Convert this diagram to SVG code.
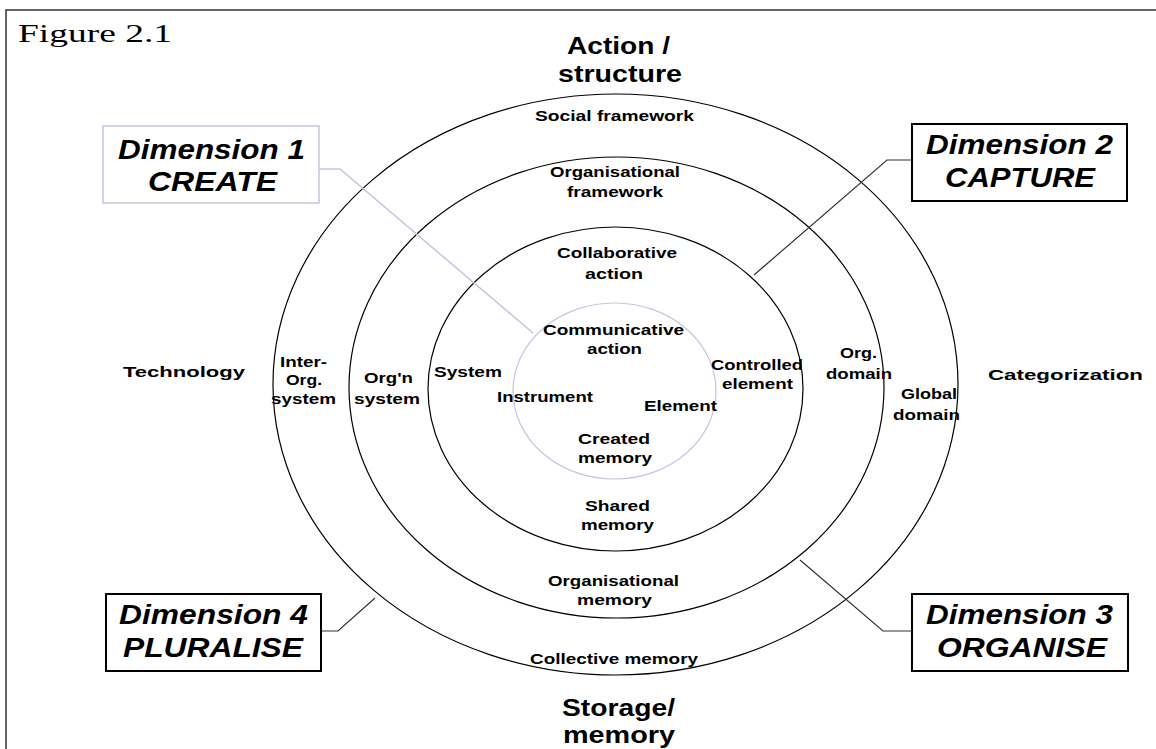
<svg xmlns="http://www.w3.org/2000/svg" width="1156" height="749" viewBox="0 0 1156 749">
<style>
.bg{fill:#ffffff}
.frame{fill:none;stroke:#333333;stroke-width:1.5}
.ring{fill:none;stroke:#000000;stroke-width:1.2}
.core{fill:none;stroke:#c4c4e4;stroke-width:1.2}
.lbl{font-family:"Liberation Sans",Arial,sans-serif;font-weight:bold;font-size:15px;fill:#000}
.axis{font-family:"Liberation Sans",Arial,sans-serif;font-weight:bold;font-size:23px;fill:#000}
.dim{font-family:"Liberation Sans",Arial,sans-serif;font-weight:bold;font-style:italic;font-size:27px;fill:#000}
.box{fill:#ffffff;stroke:#000;stroke-width:2}
.box1{fill:#ffffff;stroke:#c4c4e4;stroke-width:1.5}
.conn{fill:none;stroke:#333333;stroke-width:1.2}
.conn1{fill:none;stroke:#c4c4e4;stroke-width:1.5}
.title{font-family:"Liberation Serif","Times New Roman",serif;font-size:25px;fill:#000}
</style>
<rect class="bg" x="0" y="0" width="1156" height="749"/>
<rect class="frame" x="6" y="10" width="1200" height="800"/>
<text class="title" x="18" y="42" textLength="154" lengthAdjust="spacingAndGlyphs">Figure 2.1</text>

<g id="rings">
<ellipse class="ring" cx="615.5" cy="384.5" rx="342.5" ry="290.5"/>
<ellipse class="ring" cx="616.5" cy="387.5" rx="267.5" ry="230.5"/>
<ellipse class="ring" cx="615.5" cy="389" rx="187.5" ry="162"/>
<ellipse class="core" cx="614.5" cy="391" rx="101.5" ry="88"/>
</g>

<g id="connectors">
<polyline class="conn1" points="302,169 340,169 533,333"/>
<polyline class="conn" points="912,160 887,160 754,275"/>
<polyline class="conn" points="912,631 883,631 800,560"/>
<polyline class="conn" points="321,631 338,631 375,598"/>
</g>

<g id="axis-top">
<text class="axis" x="567" y="54" textLength="103" lengthAdjust="spacingAndGlyphs">Action /</text>
<text class="axis" x="558" y="82" textLength="124" lengthAdjust="spacingAndGlyphs">structure</text>
</g>
<g id="axis-bottom">
<text class="axis" x="562" y="716" textLength="113" lengthAdjust="spacingAndGlyphs">Storage/</text>
<text class="axis" x="563" y="743" textLength="112" lengthAdjust="spacingAndGlyphs">memory</text>
</g>
<g id="axis-left"><text class="lbl" x="123" y="377" textLength="122" lengthAdjust="spacingAndGlyphs">Technology</text></g>
<g id="axis-right"><text class="lbl" x="988" y="380" textLength="155" lengthAdjust="spacingAndGlyphs">Categorization</text></g>

<g id="social-framework"><text class="lbl" x="535" y="121" textLength="159" lengthAdjust="spacingAndGlyphs">Social framework</text></g>
<g id="org-framework">
<text class="lbl" x="550" y="177" textLength="130" lengthAdjust="spacingAndGlyphs">Organisational</text>
<text class="lbl" x="567" y="197" textLength="96" lengthAdjust="spacingAndGlyphs">framework</text>
</g>
<g id="collab-action">
<text class="lbl" x="557" y="258" textLength="120" lengthAdjust="spacingAndGlyphs">Collaborative</text>
<text class="lbl" x="585" y="279" textLength="58" lengthAdjust="spacingAndGlyphs">action</text>
</g>
<g id="comm-action">
<text class="lbl" x="543" y="335" textLength="141" lengthAdjust="spacingAndGlyphs">Communicative</text>
<text class="lbl" x="587" y="354" textLength="55" lengthAdjust="spacingAndGlyphs">action</text>
</g>
<g id="system"><text class="lbl" x="434" y="377" textLength="68" lengthAdjust="spacingAndGlyphs">System</text></g>
<g id="instrument"><text class="lbl" x="497" y="402" textLength="96" lengthAdjust="spacingAndGlyphs">Instrument</text></g>
<g id="element"><text class="lbl" x="644" y="411" textLength="73" lengthAdjust="spacingAndGlyphs">Element</text></g>
<g id="controlled-element">
<text class="lbl" x="711" y="370" textLength="92" lengthAdjust="spacingAndGlyphs">Controlled</text>
<text class="lbl" x="722" y="389" textLength="71" lengthAdjust="spacingAndGlyphs">element</text>
</g>
<g id="created-memory">
<text class="lbl" x="578" y="444" textLength="72" lengthAdjust="spacingAndGlyphs">Created</text>
<text class="lbl" x="578" y="463" textLength="74" lengthAdjust="spacingAndGlyphs">memory</text>
</g>
<g id="shared-memory">
<text class="lbl" x="585" y="511" textLength="65" lengthAdjust="spacingAndGlyphs">Shared</text>
<text class="lbl" x="581" y="530" textLength="73" lengthAdjust="spacingAndGlyphs">memory</text>
</g>
<g id="org-memory">
<text class="lbl" x="548" y="586" textLength="131" lengthAdjust="spacingAndGlyphs">Organisational</text>
<text class="lbl" x="577" y="605" textLength="75" lengthAdjust="spacingAndGlyphs">memory</text>
</g>
<g id="collective-memory"><text class="lbl" x="530" y="664" textLength="168" lengthAdjust="spacingAndGlyphs">Collective memory</text></g>
<g id="inter-org-system">
<text class="lbl" x="280" y="367" textLength="47" lengthAdjust="spacingAndGlyphs">Inter-</text>
<text class="lbl" x="286" y="385" textLength="36" lengthAdjust="spacingAndGlyphs">Org.</text>
<text class="lbl" x="271" y="404" textLength="65" lengthAdjust="spacingAndGlyphs">system</text>
</g>
<g id="orgn-system">
<text class="lbl" x="364" y="383" textLength="49" lengthAdjust="spacingAndGlyphs">Org'n</text>
<text class="lbl" x="354" y="404" textLength="66" lengthAdjust="spacingAndGlyphs">system</text>
</g>
<g id="org-domain">
<text class="lbl" x="840" y="358" textLength="37" lengthAdjust="spacingAndGlyphs">Org.</text>
<text class="lbl" x="826" y="379" textLength="66" lengthAdjust="spacingAndGlyphs">domain</text>
</g>
<g id="global-domain">
<text class="lbl" x="901" y="399" textLength="56" lengthAdjust="spacingAndGlyphs">Global</text>
<text class="lbl" x="893" y="420" textLength="67" lengthAdjust="spacingAndGlyphs">domain</text>
</g>

<g id="dimension1">
<rect class="box1" x="103" y="126" width="216" height="77"/>
<text class="dim" x="118" y="159" textLength="187" lengthAdjust="spacingAndGlyphs">Dimension 1</text>
<text class="dim" x="148" y="191" textLength="129" lengthAdjust="spacingAndGlyphs">CREATE</text>
</g>
<g id="dimension2">
<rect class="box" x="912" y="124" width="215" height="77"/>
<text class="dim" x="926" y="154" textLength="187" lengthAdjust="spacingAndGlyphs">Dimension 2</text>
<text class="dim" x="945" y="187" textLength="150" lengthAdjust="spacingAndGlyphs">CAPTURE</text>
</g>
<g id="dimension3">
<rect class="box" x="912" y="594" width="216" height="77"/>
<text class="dim" x="926" y="624" textLength="187" lengthAdjust="spacingAndGlyphs">Dimension 3</text>
<text class="dim" x="937" y="657" textLength="170" lengthAdjust="spacingAndGlyphs">ORGANISE</text>
</g>
<g id="dimension4">
<rect class="box" x="106" y="594" width="215" height="77"/>
<text class="dim" x="119" y="624" textLength="189" lengthAdjust="spacingAndGlyphs">Dimension 4</text>
<text class="dim" x="123" y="657" textLength="180" lengthAdjust="spacingAndGlyphs">PLURALISE</text>
</g>
</svg>
